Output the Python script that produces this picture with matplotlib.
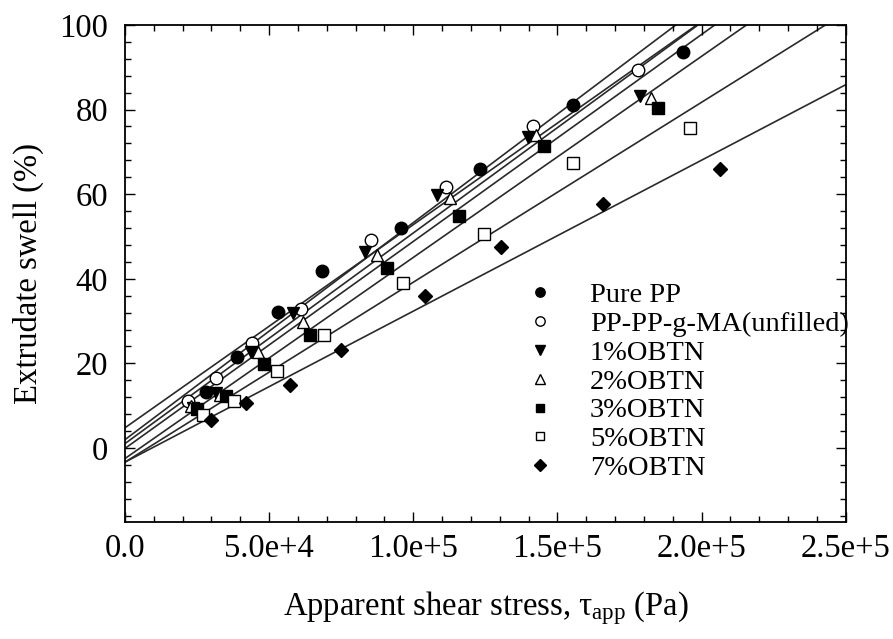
import matplotlib
matplotlib.use("Agg")
import matplotlib.pyplot as plt
import numpy as np
from matplotlib.ticker import MultipleLocator, FuncFormatter

plt.rcParams['font.family'] = ['Liberation Serif', 'DejaVu Serif']
plt.rcParams['mathtext.fontset'] = 'custom'
plt.rcParams['mathtext.rm'] = 'Liberation Serif'
plt.rcParams['mathtext.it'] = 'Liberation Serif:italic'

# Data (shear stress in Pa, swell in %).
pure_pp_x = [28.0e3, 38.7e3, 52.9e3, 68.4e3, 95.9e3, 123.1e3, 155.4e3, 193.4e3]
pure_pp_y = [13.2, 21.5, 32.1, 41.9, 51.9, 66.0, 81.0, 93.5]

unfilled_x = [21.7e3, 31.4e3, 44.1e3, 61.0e3, 85.5e3, 111.2e3, 141.6e3, 178.0e3]
unfilled_y = [11.2, 16.5, 24.9, 32.8, 49.1, 61.8, 76.2, 89.3]

obtn1_x = [23.5e3, 31.5e3, 43.7e3, 58.4e3, 83.2e3, 108.1e3, 139.8e3, 178.6e3]
obtn1_y = [9.5, 13.0, 22.7, 32.0, 46.4, 59.8, 73.6, 83.3]

obtn2_x = [23.0e3, 33.0e3, 46.2e3, 61.8e3, 87.3e3, 112.7e3, 142.7e3, 182.3e3]
obtn2_y = [10.0, 12.5, 22.7, 29.8, 45.6, 59.0, 74.0, 82.7]

obtn3_x = [25.0e3, 35.0e3, 48.3e3, 64.1e3, 90.9e3, 115.9e3, 145.3e3, 184.9e3]
obtn3_y = [9.2, 12.4, 19.9, 26.8, 42.6, 54.8, 71.3, 80.3]

obtn5_x = [27.1e3, 37.9e3, 52.6e3, 69.1e3, 96.6e3, 124.5e3, 155.4e3, 196.1e3]
obtn5_y = [7.7, 11.0, 18.3, 26.8, 39.0, 50.5, 67.3, 75.6]

obtn7_x = [29.8e3, 41.8e3, 57.2e3, 74.8e3, 104.2e3, 130.6e3, 165.8e3, 206.5e3]
obtn7_y = [6.7, 10.7, 14.8, 23.1, 36.0, 47.6, 57.7, 66.0]

series = [
    ("Pure PP", pure_pp_x, pure_pp_y, 'o', 'black'),
    ("PP-PP-g-MA(unfilled)", unfilled_x, unfilled_y, 'o', 'white'),
    ("1%OBTN", obtn1_x, obtn1_y, 'v', 'black'),
    ("2%OBTN", obtn2_x, obtn2_y, '^', 'white'),
    ("3%OBTN", obtn3_x, obtn3_y, 's', 'black'),
    ("5%OBTN", obtn5_x, obtn5_y, 's', 'white'),
    ("7%OBTN", obtn7_x, obtn7_y, 'D', 'black'),
]

fig = plt.figure(figsize=(8.93, 6.39), dpi=100)
axis = fig.add_axes([0.140, 0.183, 0.807, 0.778])

# Linear fit through each series, drawn across the full x range.
fit_x = np.array([0.0, 2.5e5])
for name, xs, ys, marker, face in series:
    slope, icpt = np.polyfit(xs, ys, 1)
    axis.plot(fit_x, slope * fit_x + icpt, color='#2a2a2a', linewidth=1.2, zorder=1)

for name, xs, ys, marker, face in series:
    size = 9 if marker in ('o', 'v', '^') else 8
    if marker == 'D':
        size = 7.5
    axis.plot(xs, ys, linestyle='none', marker=marker, markersize=size,
              markerfacecolor=face, markeredgecolor='black', markeredgewidth=1.0,
              label=name, zorder=3)

axis.set_xlim(0, 2.5e5)
axis.set_ylim(-17.5, 100)

axis.xaxis.set_major_locator(MultipleLocator(5e4))
axis.xaxis.set_minor_locator(MultipleLocator(1e4))
axis.yaxis.set_major_locator(MultipleLocator(20))
axis.yaxis.set_minor_locator(MultipleLocator(4))


def fmt_x(v, pos):
    if v <= 0:
        return "0.0" if v == 0 else ""
    exp = int(np.floor(np.log10(v)))
    return "%.1fe+%d" % (v / 10 ** exp, exp)


axis.xaxis.set_major_formatter(FuncFormatter(fmt_x))
axis.yaxis.set_major_formatter(FuncFormatter(lambda v, p: "%d" % v if v >= 0 else ""))

axis.tick_params(which='both', direction='in', top=True, right=True, width=1.0)
axis.tick_params(which='major', length=7, labelsize=23.5)
axis.tick_params(axis='x', which='major', pad=8)
axis.tick_params(axis='y', which='major', pad=12)
axis.tick_params(which='minor', length=4)
for sp in axis.spines.values():
    sp.set_linewidth(1.3)

axis.set_xlabel(r"Apparent shear stress, $\mathrm{\tau}_{\mathrm{app}}$ (Pa)", fontsize=23.5, labelpad=18)
axis.set_ylabel("Extrudate swell (%)", fontsize=23.5, labelpad=11)

axis.legend(loc='upper left', bbox_to_anchor=(0.589, 0.558), bbox_transform=fig.transFigure,
            frameon=False, fontsize=20.5, markerscale=0.75, handlelength=1.0,
            handletextpad=1.25, labelspacing=0.1, borderpad=0, borderaxespad=0)

plt.savefig("out.png", dpi=100)
